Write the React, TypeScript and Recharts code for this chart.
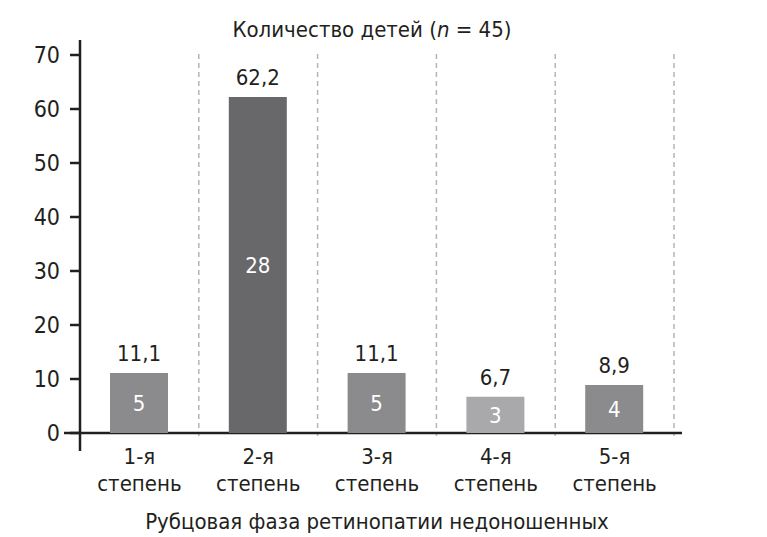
import { BarChart, Bar, XAxis, YAxis, Cell, LabelList, Label, usePlotArea } from 'recharts';

const categories = ['1-я степень', '2-я степень', '3-я степень', '4-я степень', '5-я степень'];
const percents = [11.1, 62.2, 11.1, 6.7, 8.9];
const counts = [5, 28, 5, 3, 4];
const barColors = ['#8b8b8e', '#68686b', '#8b8b8e', '#a9a9ac', '#8b8b8e'];
const yTicks = [0, 10, 20, 30, 40, 50, 60, 70];
const titleStart = 'Количество детей (';
const titleVar = 'n';
const titleEnd = ' = 45)';
const xTitle = 'Рубцовая фаза ретинопатии недоношенных';

const FONT = '"Liberation Sans Narrow", "DejaVu Sans Condensed", sans-serif';
const INK = '#231f20';

const data = categories.map((name, i) => ({ name, pct: percents[i], count: counts[i] }));

const fmt = (v: any) => String(v).replace('.', ',');

function CategoryTick({ x, y, payload }: any) {
  const [first, second] = String(payload.value).split(' ');
  return (
    <text x={x} y={y} textAnchor="middle" fontFamily={FONT} fontSize={22} fill={INK}>
      <tspan x={x} dy={31}>{first}</tspan>
      <tspan x={x} dy={27}>{second}</tspan>
    </text>
  );
}

// axis lines that overshoot the plot, dashed category separators and the title
function AxisFrame() {
  const plot = usePlotArea();
  if (!plot) return null;
  const bottom = plot.y + plot.height;
  const n = categories.length;
  return (
    <g>
      {categories.map((_, i) => {
        const sx = plot.x + (plot.width * (i + 1)) / n;
        return (
          <line key={i} x1={sx} x2={sx} y1={plot.y - 1} y2={bottom + 3}
            stroke="#b5b5b7" strokeWidth={1.5} strokeDasharray="5 4" />
        );
      })}
      <line x1={plot.x} x2={plot.x} y1={plot.y - 15} y2={bottom + 18} stroke={INK} strokeWidth={2.5} />
      <line x1={plot.x - 16} x2={plot.x + plot.width + 8} y1={bottom} y2={bottom} stroke={INK} strokeWidth={2.5} />
      <text x={plot.x + plot.width / 2 - 5} y={plot.y - 18} textAnchor="middle"
        fontFamily={FONT} fontSize={22} fill={INK}>
        {titleStart}<tspan fontStyle="italic">{titleVar}</tspan>{titleEnd}
      </text>
    </g>
  );
}

export default function App() {
  return (
    <div style={{ position: 'absolute', left: 0, top: 0, width: 767, height: 537, background: '#fff' }}>
      <BarChart width={767} height={537} data={data}
        margin={{ top: 55, right: 93, left: 20, bottom: 8 }}>
        <XAxis dataKey="name" axisLine={false} tickLine={false} tickSize={0} tickMargin={0}
          height={96} interval={0} tick={<CategoryTick />}>
          <Label value={xTitle} position="insideBottom" offset={0}
            style={{ fontFamily: FONT, fontSize: 22, fill: INK }} />
        </XAxis>
        <YAxis width={60} domain={[0, 70]} ticks={yTicks} axisLine={false}
          tickSize={10} tickMargin={10} tickLine={{ stroke: INK, strokeWidth: 2.5 }}
          tick={{ fontFamily: FONT, fontSize: 23, fill: INK }} />
        <Bar dataKey="pct" barSize={58} isAnimationActive={false}>
          {data.map((d, i) => <Cell key={d.name} fill={barColors[i]} />)}
          <LabelList dataKey="pct" position="top" offset={12} formatter={fmt}
            style={{ fontFamily: FONT, fontSize: 22, fill: INK }} />
          <LabelList dataKey="count" position="center"
            style={{ fontFamily: FONT, fontSize: 22, fill: '#ffffff' }} />
        </Bar>
        <AxisFrame />
      </BarChart>
    </div>
  );
}
